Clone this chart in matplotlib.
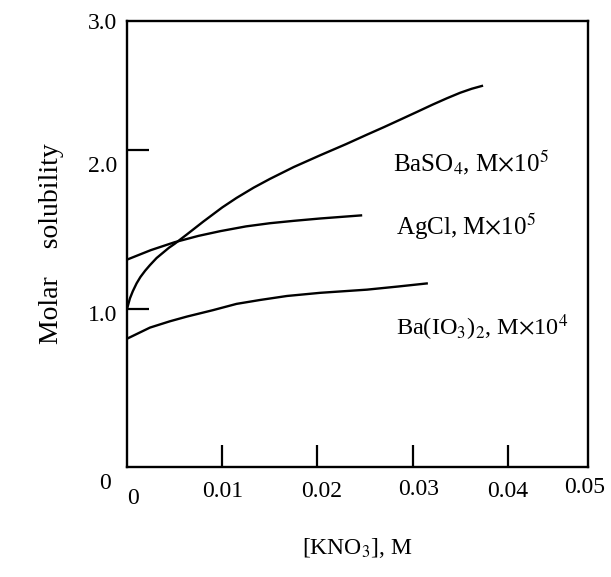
import matplotlib
matplotlib.use("Agg")
import matplotlib.pyplot as plt
import matplotlib.transforms as mtransforms

plt.rcParams["font.family"] = ["Liberation Serif", "DejaVu Serif"]
plt.rcParams["mathtext.fontset"] = "stix"

# KNO3 concentration (M) and molar solubility
baso4_x = [0.0, 0.0003, 0.0006, 0.0010, 0.0014, 0.0019, 0.0024, 0.0031,
           0.0038, 0.0044, 0.0050, 0.0063, 0.0080, 0.0100, 0.0115, 0.0133,
           0.0150, 0.0175, 0.0203, 0.0230, 0.0252, 0.0270, 0.0287, 0.0305,
           0.0321, 0.0336, 0.0350, 0.0362, 0.0374]
baso4_y = [1.00, 1.065, 1.11, 1.16, 1.20, 1.24, 1.275, 1.32,
           1.355, 1.385, 1.41, 1.47, 1.55, 1.64, 1.70, 1.765,
           1.82, 1.895, 1.97, 2.04, 2.10, 2.148, 2.195, 2.245,
           2.29, 2.33, 2.365, 2.39, 2.41]

agcl_x = [0.0, 0.0025, 0.0050, 0.0075, 0.0098, 0.0125, 0.0150, 0.0175,
          0.0203, 0.0225, 0.0247]
agcl_y = [1.31, 1.37, 1.42, 1.46, 1.49, 1.52, 1.54, 1.555,
          1.57, 1.58, 1.59]

baio3_x = [0.0, 0.0024, 0.0045, 0.0063, 0.0090, 0.0115, 0.0140, 0.0168,
           0.0203, 0.0252, 0.0285, 0.0316]
baio3_y = [0.81, 0.88, 0.92, 0.95, 0.99, 1.03, 1.055, 1.08,
           1.10, 1.12, 1.14, 1.16]

# inner tick marks (with labels) and the unmarked end labels
x_marks = [0.01, 0.02, 0.03, 0.04]
x_mark_labels = ["0.01", "0.02", "0.03", "0.04"]
x_ends = [0.0, 0.0484]
x_end_labels = ["0", "0.05"]
y_marks = [1.0, 2.0]
y_mark_labels = ["1.0", "2.0"]
y_ends = [0.0, 2.82]
y_end_labels = ["0", "3.0"]

fig = plt.figure(figsize=(6.11, 5.77), dpi=100)
ax = fig.add_axes([0.208, 0.191, 0.754, 0.773])

for xs, ys in [(baso4_x, baso4_y), (agcl_x, agcl_y), (baio3_x, baio3_y)]:
    ax.plot(xs, ys, color="black", linewidth=1.7,
            solid_capstyle="butt", solid_joinstyle="round")

ax.set_xlim(0, 0.0484)
ax.set_ylim(0, 2.82)

for sp in ax.spines.values():
    sp.set_linewidth(1.7)

ax.set_xticks(x_marks)
ax.set_xticklabels(x_mark_labels)
ax.set_yticks(y_marks)
ax.set_yticklabels(y_mark_labels)
ax.set_xticks(x_ends, minor=True)
ax.set_xticklabels(x_end_labels, minor=True)
ax.set_yticks(y_ends, minor=True)
ax.set_yticklabels(y_end_labels, minor=True)

ax.tick_params(which="major", direction="in", length=16, width=1.6,
               labelsize=17)
ax.tick_params(which="minor", length=0, labelsize=17)
ax.tick_params(axis="x", which="both", pad=10)
ax.tick_params(axis="y", which="both", pad=7)


# the printed labels sit a bit off their ticks
def nudge(label, dx, dy):
    off = mtransforms.ScaledTranslation(dx / 72, dy / 72, fig.dpi_scale_trans)
    label.set_transform(label.get_transform() + off)


ymaj = ax.get_yticklabels()
nudge(ymaj[0], 0, -3)
nudge(ymaj[1], 0, -10)
ymin = ax.get_yticklabels(minor=True)
nudge(ymin[0], -5, -10)
xmaj = ax.get_xticklabels()
nudge(xmaj[1], 3, 0)
nudge(xmaj[2], 4, 1)
xmin = ax.get_xticklabels(minor=True)
nudge(xmin[0], 4, -5)
nudge(xmin[1], -2, 3)

ax.text(0.0279, 1.92, r"BaSO$_4$, M$\times$10$^5$", fontsize=18, va="center")
ax.text(0.0283, 1.52, r"AgCl, M$\times$10$^5$", fontsize=18, va="center")
ax.text(0.0283, 0.88, r"Ba(IO$_3$)$_2$, M$\times$10$^4$", fontsize=17.5,
        va="center")

ax.set_ylabel("Molar    solubility", fontsize=20, labelpad=17)
ax.set_xlabel("[KNO$_3$], M", fontsize=17, labelpad=20)

fig.savefig("out.png", dpi=100)
